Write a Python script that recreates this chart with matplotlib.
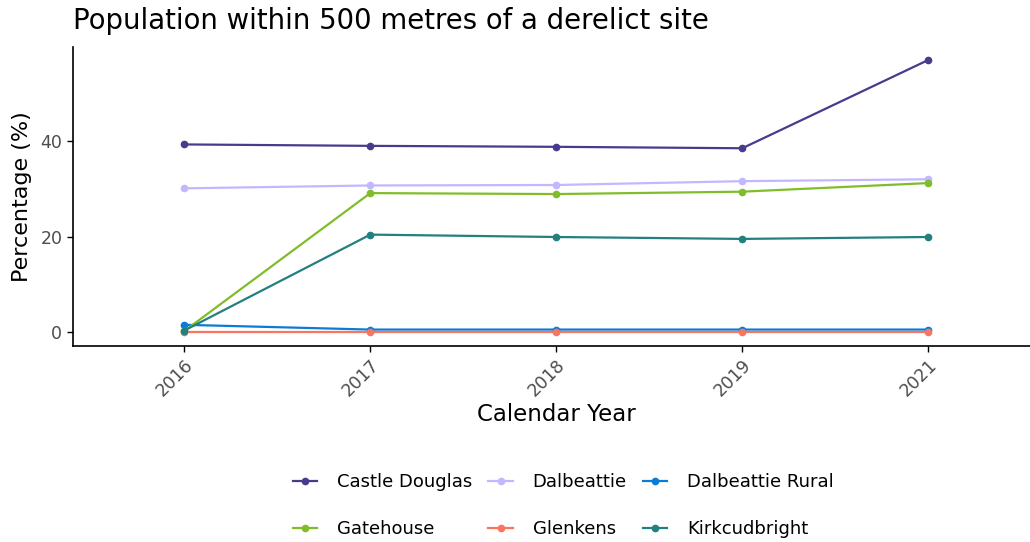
import numpy as np
import matplotlib
matplotlib.use('Agg')
import matplotlib.pyplot as plt

years = ['2016', '2017', '2018', '2019', '2021']
castle_douglas = [39.3, 39.0, 38.8, 38.5, 57.0]
dalbeattie = [30.1, 30.7, 30.8, 31.6, 32.0]
dalbeattie_rural = [1.5, 0.5, 0.5, 0.5, 0.5]
gatehouse = [0.2, 29.1, 28.9, 29.4, 31.2]
glenkens = [0.0, 0.0, 0.0, 0.0, 0.0]
kirkcudbright = [0.3, 20.4, 19.9, 19.5, 19.9]

names = ['Castle Douglas', 'Dalbeattie', 'Dalbeattie Rural',
         'Gatehouse', 'Glenkens', 'Kirkcudbright']
series = [castle_douglas, dalbeattie, dalbeattie_rural,
          gatehouse, glenkens, kirkcudbright]
colors = ['#483b8c', '#c3b8ff', '#0a7bd8', '#80bd2a', '#fa7560', '#23807f']

fig = plt.figure(figsize=(10.3, 5.42), dpi=100)
ax = fig.add_axes([0.0706, 0.362, 0.939, 0.552])

x = np.arange(len(years))
handles = []
for name, vals, c in zip(names, series, colors):
    h, = ax.plot(x, vals, color=c, lw=1.6, marker='o', ms=4.5, label=name)
    handles.append(h)

ax.set_xlim(-0.6, 4.6)
ax.set_ylim(-2.9, 59.8)
ax.set_xticks(x)
ax.set_xticklabels(years, rotation=45, ha='right', rotation_mode='anchor')
ax.set_yticks([0, 20, 40])
ax.tick_params(labelsize=12.5, labelcolor='#4d4d4d', length=4, width=1)
for s in ['top', 'right']:
    ax.spines[s].set_visible(False)
for s in ['left', 'bottom']:
    ax.spines[s].set_linewidth(1.2)

ax.set_xlabel('Calendar Year', fontsize=16.5, labelpad=2)
ax.set_ylabel('Percentage (%)', fontsize=16, labelpad=6)
fig.text(0.071, 0.962, 'Population within 500 metres of a derelict site',
         fontsize=19.8, va='center', ha='left')

# legend filled row by row, like ggplot
order = [0, 3, 1, 4, 2, 5]
fig.legend([handles[i] for i in order], [names[i] for i in order],
           loc='center', bbox_to_anchor=(0.547, 0.067), ncol=3, frameon=False,
           fontsize=13, handlelength=1.35, columnspacing=0.9, labelspacing=1.6,
           handletextpad=1.1)

fig.savefig('out.png', dpi=100)
